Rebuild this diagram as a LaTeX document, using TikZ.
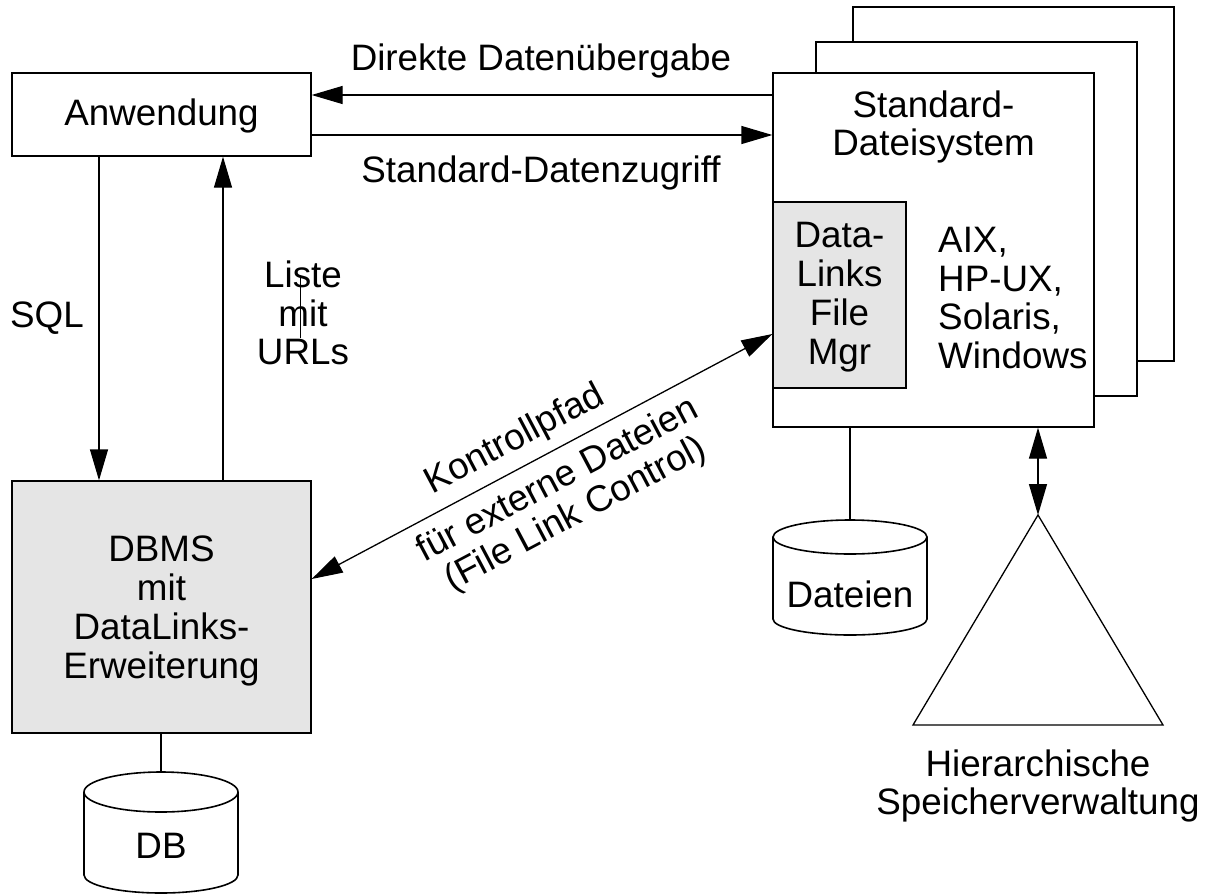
\documentclass[tikz,border=0pt]{standalone}
\usepackage{fontspec}
\setmainfont{Liberation Sans}
\usetikzlibrary{arrows.meta,calc}
\newcommand\lab{\fontsize{36.8}{38.8}\selectfont}
\tikzset{
  box/.style={draw, line width=1.3pt, inner sep=0pt},
  gbox/.style={box, fill=black!10},
  lbl/.style={font=\lab, align=center, inner sep=0pt},
  ln/.style={line width=1.3pt},
  arr/.style={ln, -{Triangle[length=31pt,width=18pt]}},
  dblarr/.style={ln, {Triangle[length=31pt,width=18pt]}-{Triangle[length=31pt,width=18pt]}},
}
\begin{document}
\begin{tikzpicture}[x=1pt,y=-1pt]
\useasboundingbox (0,0) rectangle (1208,895);
% stacked file system boxes
\node[box, fill=white, minimum width=321pt, minimum height=354pt] (fs3) at (1013.5,184) {};
\node[box, fill=white, minimum width=321pt, minimum height=354pt] (fs2) at (976.5,219) {};
\node[box, fill=white, minimum width=321pt, minimum height=354pt] (main) at (933.5,250) {};
\node[lbl] (fstext) at (933.5,127) {Standard-\\Dateisystem};
\node[gbox, minimum width=133pt, minimum height=186pt] (dlfm) at (839.5,295) {};
\node[lbl] (dlfmtext) at (839.5,297) {Data-\\Links\\File\\Mgr};
\node[lbl, align=left, anchor=west] (os) at (938,298) {AIX,\\HP-UX,\\Solaris,\\Windows};
% Anwendung
\node[box, minimum width=299pt, minimum height=83pt] (anw) at (161.5,114.5) {};
\node[lbl] (anwtext) at (161.5,116) {Anwendung};
% DBMS
\node[gbox, minimum width=299pt, minimum height=252pt] (dbms) at (161.5,607) {};
\node[lbl] (dbmstext) at (161.5,611) {DBMS\\mit\\DataLinks-\\Erweiterung};
% top arrows
\draw[arr] (main.west |- 0,95) -- (anw.east |- 0,95);
\draw[arr] (anw.east |- 0,135) -- (main.west |- 0,135);
\node[lbl] (dd) at (541,61) {Direkte Datenübergabe};
\node[lbl] (sd) at (541,173) {Standard-Datenzugriff};
% SQL and Liste
\draw[arr] (anw.south -| 99,0) -- (dbms.north -| 99,0);
\draw[arr] (dbms.north -| 223,0) -- (anw.south -| 223,0);
\node[lbl] (sql) at (47,318) {SQL};
\node[lbl] (liste) at (303,313) {Liste\\mit\\URLs};
\draw[line width=1pt] (300,277) -- (300,338);
% control path
\draw[dblarr] ([yshift=28pt]dbms.east) -- ([yshift=-84pt]main.west);
\node[lbl, rotate=27.9] (kp) at (515,440) {Kontrollpfad};
\node[lbl, rotate=27.9] (fe) at (567,498) {für externe Dateien\\(File Link Control)};
% Dateien cylinder
\coordinate (dtop) at (850,520);
\draw[ln] (main.south -| dtop) -- (dtop);
\draw[line width=1.6pt] (850,537) ellipse [x radius=77, y radius=17];
\draw[line width=1.6pt] (773,537) -- (773,619) arc[start angle=180, end angle=0, x radius=77, y radius=16] -- (927,537);
\node[lbl] (dateien) at (850,594) {Dateien};
% DB cylinder
\coordinate (dbtop) at (161,772);
\draw[ln] (dbms.south -| dbtop) -- (dbtop);
\draw[line width=1.6pt] (161,792) ellipse [x radius=77, y radius=20];
\draw[line width=1.6pt] (84,792) -- (84,875) arc[start angle=180, end angle=0, x radius=77, y radius=18] -- (238,792);
\node[lbl] (db) at (161,846) {DB};
% HSM triangle
\coordinate (apex) at (1038,515);
\draw[ln] (913,725) -- (apex) -- (1163,725) -- cycle;
\draw[dblarr] (main.south -| apex) -- (apex);
\node[lbl] (hsm) at (1038,786) {Hierarchische\\Speicherverwaltung};
\end{tikzpicture}
\end{document}
